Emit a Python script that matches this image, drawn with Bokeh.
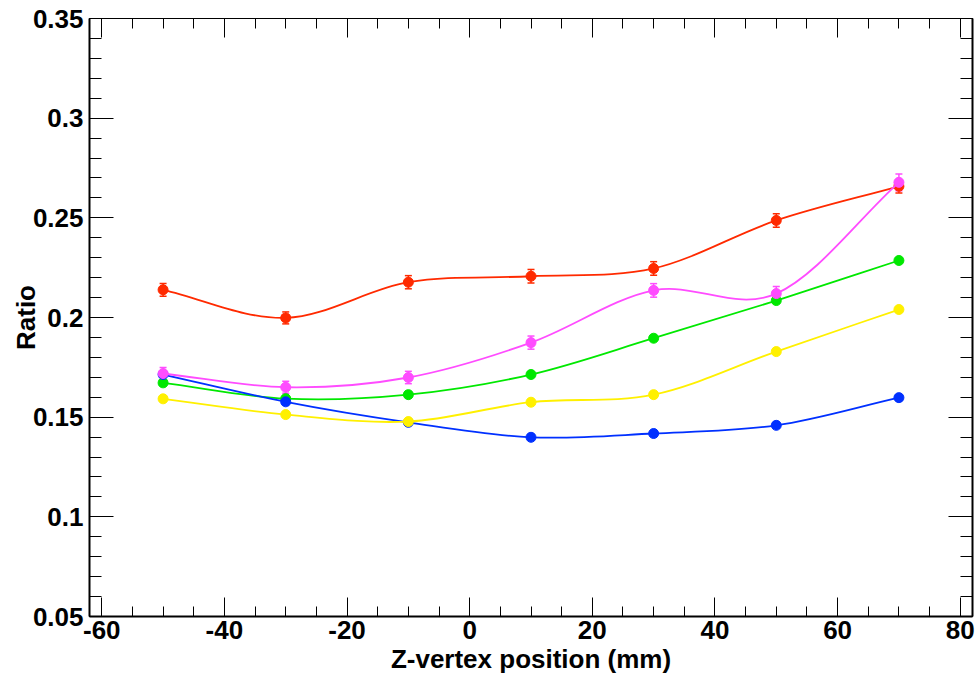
import numpy as np
from bokeh.plotting import figure
from bokeh.models import (Range1d, FixedTicker, LinearAxis, Whisker, TeeHead,
                          ColumnDataSource, CustomJSTickFormatter)
from bokeh.embed import file_html
from bokeh.resources import INLINE

# ---------------- data ----------------
z_pos = [-50, -30, -10, 10, 30, 50, 70]

red_vals = [0.2139, 0.1998, 0.2177, 0.2207, 0.2246, 0.2487, 0.2658]
red_err = [0.0032, 0.0030, 0.0033, 0.0034, 0.0034, 0.0034, 0.0033]

magenta_vals = [0.1719, 0.1650, 0.1699, 0.1874, 0.2136, 0.2120, 0.2678]
magenta_err = [0.0030, 0.0030, 0.0031, 0.0033, 0.0034, 0.0035, 0.0042]

green_vals = [0.1672, 0.1593, 0.1613, 0.1714, 0.1896, 0.2085, 0.2286]
green_err = [0.0015, 0.0015, 0.0015, 0.0015, 0.0015, 0.0015, 0.0015]

yellow_vals = [0.1592, 0.1513, 0.1478, 0.1575, 0.1613, 0.1829, 0.2040]
yellow_err = [0.0015, 0.0015, 0.0015, 0.0015, 0.0015, 0.0015, 0.0015]

blue_vals = [0.1714, 0.1577, 0.1474, 0.1399, 0.1418, 0.1459, 0.1598]
blue_err = [0.0015, 0.0015, 0.0015, 0.0015, 0.0015, 0.0015, 0.0015]

x_major_ticks = [-60, -40, -20, 0, 20, 40, 60, 80]
y_major_ticks = [0.05, 0.10, 0.15, 0.20, 0.25, 0.30, 0.35]

x_title = "Z-vertex position (mm)"
y_title = "Ratio"

series = [
    ("green", green_vals, green_err, "#00e800"),
    ("blue", blue_vals, blue_err, "#0030ff"),
    ("yellow", yellow_vals, yellow_err, "#fff000"),
    ("red", red_vals, red_err, "#ff2a00"),
    ("magenta", magenta_vals, magenta_err, "#ff4cff"),
]

FONT = "Liberation Sans"

# ---------------- figure ----------------
p = figure(width=977, height=681, output_backend="svg", toolbar_location=None,
           x_range=Range1d(-62, 82), y_range=Range1d(0.05, 0.35),
           min_border_left=89, min_border_right=5, min_border_top=18, min_border_bottom=65,
           x_axis_location=None, y_axis_location=None)
p.xgrid.visible = False
p.ygrid.visible = False
p.outline_line_color = "black"
p.outline_line_width = 1
p.background_fill_color = "white"
p.border_fill_color = "white"

x_minor = list(np.arange(-60, 81, 5))
y_minor = list(np.round(np.arange(0.05, 0.351, 0.01), 4))
xt = FixedTicker(ticks=x_major_ticks, minor_ticks=x_minor)
yt = FixedTicker(ticks=y_major_ticks, minor_ticks=y_minor)
xfmt = CustomJSTickFormatter(code="return String(Math.round(tick));")
yfmt = CustomJSTickFormatter(code="return String(parseFloat(tick.toFixed(2)));")
blank = CustomJSTickFormatter(code="return '';")


def style_axis(ax, major, minor, lw, show_labels):
    ax.axis_line_color = "black"
    ax.axis_line_width = lw
    ax.major_tick_line_color = "black"
    ax.minor_tick_line_color = "black"
    ax.major_tick_line_width = 1
    ax.minor_tick_line_width = 1
    ax.major_tick_in = major
    ax.major_tick_out = 0
    ax.minor_tick_in = minor
    ax.minor_tick_out = 0
    ax.major_label_text_font = FONT
    ax.major_label_text_font_style = "bold"
    ax.major_label_text_color = "black"
    ax.axis_label_text_font = FONT
    ax.axis_label_text_font_style = "bold"
    ax.axis_label_text_font_size = "26px"
    ax.axis_label_text_color = "black"
    if show_labels:
        ax.major_label_text_font_size = "26px"
    else:
        ax.major_label_text_font_size = "10px"
        ax.major_label_standoff = 0


xb = LinearAxis(ticker=xt, formatter=xfmt, axis_label=x_title)
style_axis(xb, 19, 10, 2, True)
xb.major_label_standoff = 4
xb.axis_label_standoff = 2
p.add_layout(xb, "below")

yl = LinearAxis(ticker=yt, formatter=yfmt, axis_label=y_title)
style_axis(yl, 24, 12, 2, True)
yl.major_label_standoff = 6
yl.axis_label_standoff = -11
p.add_layout(yl, "left")

xtop = LinearAxis(ticker=xt, formatter=blank)
style_axis(xtop, 19, 10, 1, False)
p.add_layout(xtop, "above")

yr = LinearAxis(ticker=yt, formatter=blank)
style_axis(yr, 24, 12, 2, False)
p.add_layout(yr, "right")


def catmull_rom(xs, ys):
    x = np.asarray(xs, float)
    y = np.asarray(ys, float)
    xp = np.concatenate([[2 * x[0] - x[1]], x, [2 * x[-1] - x[-2]]])
    yp = np.concatenate([[2 * y[0] - y[1]], y, [2 * y[-1] - y[-2]]])
    cx0 = x[:-1] + (xp[2:-1] - xp[:-3]) / 6
    cy0 = y[:-1] + (yp[2:-1] - yp[:-3]) / 6
    cx1 = x[1:] - (xp[3:] - xp[1:-2]) / 6
    cy1 = y[1:] - (yp[3:] - yp[1:-2]) / 6
    return dict(x0=x[:-1], y0=y[:-1], x1=x[1:], y1=y[1:],
                cx0=cx0, cy0=cy0, cx1=cx1, cy1=cy1)


for name, vals, errs, col in series:
    seg = ColumnDataSource(catmull_rom(z_pos, vals))
    p.bezier(x0="x0", y0="y0", x1="x1", y1="y1", cx0="cx0", cy0="cy0",
             cx1="cx1", cy1="cy1", source=seg, line_color=col, line_width=1.8)
    esrc = ColumnDataSource(dict(x=z_pos,
                                 upper=[v + e for v, e in zip(vals, errs)],
                                 lower=[v - e for v, e in zip(vals, errs)]))
    w = Whisker(base="x", upper="upper", lower="lower", source=esrc,
                line_color=col, line_width=1.5,
                upper_head=TeeHead(size=7, line_color=col, line_width=1.5),
                lower_head=TeeHead(size=7, line_color=col, line_width=1.5))
    p.add_layout(w)
    p.scatter(z_pos, vals, size=10, marker="circle", fill_color=col, line_color=col)

open("out.html", "w").write(file_html(p, INLINE))
